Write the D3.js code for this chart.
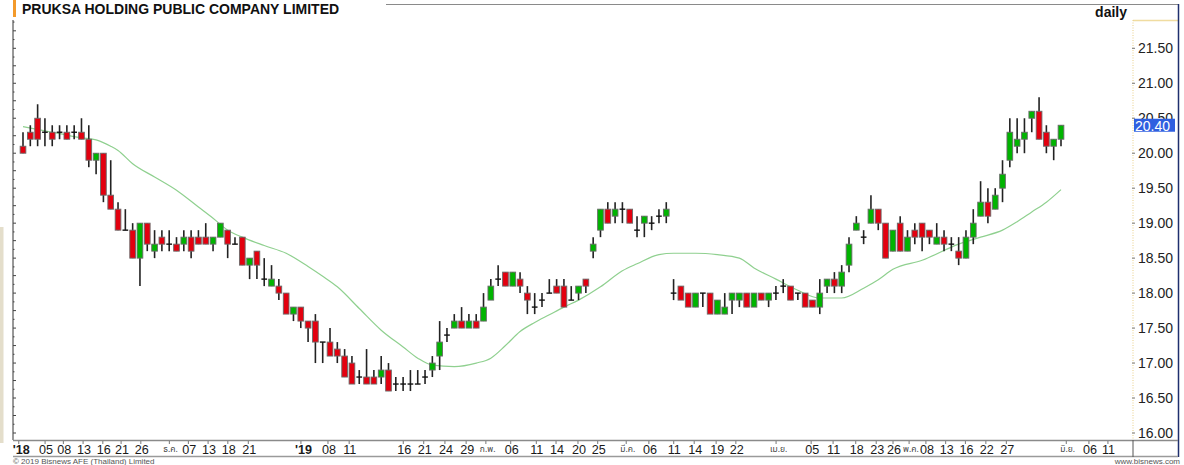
<!DOCTYPE html>
<html><head><meta charset="utf-8">
<script src="https://cdn.jsdelivr.net/npm/d3@7"></script>
<style>body{margin:0;background:#fff;overflow:hidden} svg{display:block;font-family:"Liberation Sans",Arial,Helvetica,sans-serif;}</style>
</head><body><svg id="c" width="1184" height="465"></svg>
<script>
const title = "PRUKSA HOLDING PUBLIC COMPANY LIMITED";
const period = "daily";
const copyright = "© 2019 Bisnews AFE (Thailand) Limited";
const site = "www.bisnews.com";

const opens  = [20.1,20.3,20.5,20.3,20.3,20.3,20.3,20.3,20.3,20.2,19.9,20.0,19.4,19.2,18.9,18.9,18.5,19.0,18.6,18.8,
18.7,18.7,18.7,18.8,18.8,18.8,18.7,18.8,18.9,18.7,18.8,18.4,18.6,18.2,18.1,18.1,18.0,17.7,17.8,17.6,
17.6,17.3,17.3,17.2,17.1,17.0,16.8,16.8,16.8,16.8,16.9,16.7,16.7,16.7,16.7,16.8,16.9,17.1,17.4,17.5,
17.6,17.5,17.6,17.6,17.9,18.2,18.3,18.1,18.2,18.0,17.8,17.9,18.0,18.1,18.1,17.9,18.0,18.2,18.6,18.9,
19.2,19.1,19.2,19.2,18.9,19.0,19.0,19.1,19.1,18.0,18.1,18.0,17.8,18.0,18.0,17.7,17.7,17.9,17.9,18.0,
17.8,18.0,17.9,18.0,18.1,18.1,18.0,18.0,17.9,17.8,18.1,18.2,18.1,18.4,18.9,18.8,19.0,19.2,19.0,18.6,
19.0,18.6,18.9,19.0,18.9,18.7,18.8,18.7,18.6,18.5,18.8,19.1,19.3,19.2,19.5,19.9,20.1,20.2,20.5,20.6,
20.3,20.1,20.2];
const highs  = [20.3,20.4,20.7,20.5,20.4,20.4,20.4,20.4,20.5,20.4,20.0,20.0,19.9,19.3,19.2,19.0,19.0,19.0,18.9,18.9,
18.9,18.8,18.9,18.9,18.9,19.0,18.8,19.0,18.9,18.8,18.8,18.5,18.6,18.5,18.4,18.2,18.0,17.8,17.8,17.6,
17.7,17.3,17.5,17.3,17.2,17.1,16.9,17.2,16.9,17.1,17.0,16.8,16.8,16.9,16.9,16.9,17.1,17.6,17.5,17.7,
17.8,17.7,17.7,18.0,18.2,18.4,18.3,18.3,18.3,18.1,18.0,18.0,18.2,18.2,18.2,18.1,18.1,18.2,18.8,19.2,
19.3,19.3,19.3,19.2,19.1,19.1,19.1,19.2,19.3,18.2,18.1,18.0,18.0,18.0,18.0,17.9,18.0,18.0,18.0,18.0,
18.0,18.0,18.0,18.1,18.2,18.1,18.0,18.0,17.9,18.2,18.2,18.3,18.4,18.8,19.1,18.9,19.4,19.2,19.0,18.9,
19.1,18.9,19.0,19.0,18.9,19.0,18.9,18.8,18.8,18.9,19.2,19.6,19.5,19.5,19.9,20.5,20.5,20.5,20.6,20.8,
20.4,20.2,20.4];
const lows   = [20.0,20.1,20.1,20.1,20.1,20.2,20.2,20.2,20.2,19.8,19.7,19.3,19.2,18.9,18.9,18.5,18.1,18.6,18.5,18.6,
18.6,18.6,18.6,18.5,18.7,18.7,18.6,18.8,18.5,18.7,18.4,18.2,18.2,18.1,18.1,17.9,17.7,17.6,17.5,17.3,
17.0,17.0,17.1,17.0,16.8,16.7,16.7,16.7,16.7,16.7,16.6,16.6,16.6,16.6,16.7,16.7,16.8,16.9,17.3,17.5,
17.5,17.5,17.5,17.6,17.9,18.1,18.1,18.1,18.0,17.7,17.7,17.8,18.0,18.0,17.8,17.9,17.9,18.0,18.5,18.8,
19.0,19.0,19.0,19.0,18.8,18.8,18.9,19.0,19.0,17.9,17.9,17.8,17.8,17.8,17.7,17.7,17.7,17.7,17.8,17.8,
17.8,17.9,17.8,17.9,18.0,17.9,17.9,17.8,17.8,17.7,18.0,18.0,18.0,18.3,18.9,18.7,19.0,18.9,18.5,18.6,
18.6,18.6,18.7,18.6,18.7,18.7,18.6,18.6,18.4,18.5,18.7,19.1,19.0,19.2,19.3,19.8,20.0,20.0,20.3,20.2,
20.0,19.9,20.1];
const closes = [20.0,20.2,20.2,20.3,20.2,20.3,20.2,20.3,20.2,19.9,20.0,19.4,19.2,18.9,18.9,18.5,19.0,18.7,18.7,18.7,
18.7,18.6,18.8,18.6,18.7,18.7,18.8,19.0,18.7,18.7,18.4,18.5,18.4,18.2,18.2,18.0,17.7,17.8,17.6,17.5,
17.3,17.3,17.1,17.1,16.8,16.7,16.8,16.7,16.7,16.9,16.6,16.7,16.7,16.7,16.7,16.8,17.0,17.3,17.4,17.6,
17.5,17.6,17.5,17.8,18.1,18.2,18.1,18.3,18.1,17.9,17.8,17.9,18.0,18.0,17.8,17.9,18.1,18.1,18.7,19.2,
19.0,19.2,19.2,19.0,18.9,19.1,19.0,19.1,19.2,18.0,17.9,17.8,18.0,18.0,17.7,17.9,17.8,18.0,18.0,17.8,
18.0,17.9,18.0,18.0,18.1,17.9,18.0,17.8,17.8,18.0,18.2,18.1,18.3,18.7,19.0,18.8,19.2,19.0,18.5,18.9,
18.6,18.8,18.8,18.8,18.8,18.8,18.7,18.7,18.5,18.8,19.0,19.3,19.1,19.4,19.7,20.3,20.2,20.3,20.6,20.2,
20.1,20.2,20.4];

// moving average line (candle index, value)
const maIndex = [0,3,5,8,10,12,13,15,18,21,24,26,28,30,33,36,39,41,43,46,49,52,54,56,59,62,64,66,68,70,72,74,76,79,82,84,87,89,92,95,98,100,103,106,109,112,115,117,119,123,128,131,134,136,138,140,142];
const maValue = [20.38,20.32,20.28,20.22,20.19,20.10,20.04,19.85,19.66,19.47,19.23,19.07,18.90,18.80,18.68,18.57,18.38,18.24,18.09,17.78,17.47,17.23,17.07,16.97,16.95,17.00,17.07,17.25,17.45,17.58,17.69,17.80,17.90,18.09,18.32,18.42,18.55,18.57,18.57,18.55,18.50,18.36,18.20,18.04,17.93,17.93,18.07,18.19,18.34,18.47,18.70,18.80,18.90,19.02,19.16,19.30,19.48];

const yTickValues = [16.0,16.5,17.0,17.5,18.0,18.5,19.0,19.5,20.0,20.5,21.0,21.5];

const xTickLabels = ["'18","05","08","13","16","21","26","ธ.ค.","07","13","18","21","'19","08","11","16","21","24","29","ก.พ.","06","11","14","20","25","มี.ค.","06","11","14","19","22","เม.ย.","05","11","18","23","26","พ.ค.","08","13","16","22","27","มิ.ย.","06","11"];
const xTickIndex  = [-1.4,2.2,4.7,7.4,10.1,12.6,15.3,19.2,21.8,24.5,27.2,30.0,37.2,40.9,43.8,51.2,54.0,56.9,59.8,62.5,65.9,69.4,72.1,75.1,77.8,81.7,84.8,88.2,91.0,94.0,96.7,102.2,107.0,110.0,113.1,115.9,118.2,120.4,122.7,125.4,128.1,130.9,133.7,141.9,145.0,147.6];

const candles = opens.map((o,i)=>({i, o, h:highs[i], l:lows[i], c:closes[i]}));
const ma = maIndex.map((k,j)=>({i:k, v:maValue[j]}));

const svg = d3.select("#c");
const plotL = 13, plotT = 20, plotB = 440;

const x = d3.scaleLinear().domain([0, 142]).range([23, 1061]);
const y = d3.scaleLinear().domain([16, 21.5]).range([433, 48.3]);
const step = x(1) - x(0);
const bw = step * 0.78;

// left beige strip
svg.append("rect").attr("x",0).attr("y",227).attr("width",3.5).attr("height",216).attr("fill","#e4decb");

// title bar
svg.append("rect").attr("x",13).attr("y",0).attr("width",3).attr("height",17).attr("fill","#f39a2b");
svg.append("text").attr("x",22).attr("y",14).attr("font-size",14).attr("font-weight","bold").attr("fill","#111").text(title);
svg.append("text").attr("x",1127).attr("y",17).attr("text-anchor","end").attr("font-size",14).attr("font-weight","bold").attr("fill","#111").text(period);
svg.append("line").attr("x1",386).attr("x2",1179).attr("y1",4.5).attr("y2",4.5).attr("stroke","#8a8a8a").attr("stroke-width",1);

// left axis
svg.append("line").attr("x1",plotL).attr("x2",plotL).attr("y1",plotT).attr("y2",plotB).attr("stroke","#333").attr("stroke-width",1);
const minor = d3.range(15.75, 22.01, 0.125).filter(v=>y(v)>plotT && y(v)<plotB);
svg.append("g").selectAll("line").data(minor).join("line")
  .attr("x1",plotL).attr("x2",d=> (Math.abs(d*4-Math.round(d*4))<1e-6)?plotL+3:plotL+1.5)
  .attr("y1",d=>y(d)).attr("y2",d=>y(d)).attr("stroke","#444").attr("stroke-width",1);

// right price axis panel
svg.append("line").attr("x1",1133).attr("x2",1178).attr("y1",20.5).attr("y2",20.5).attr("stroke","#f0dca0").attr("stroke-width",1.5);
svg.append("line").attr("x1",1133).attr("x2",1133).attr("y1",20).attr("y2",440).attr("stroke","#e8cf88").attr("stroke-width",1).attr("stroke-dasharray","1,1.5");
svg.append("line").attr("x1",1178.5).attr("x2",1178.5).attr("y1",4).attr("y2",457).attr("stroke","#1f2f6e").attr("stroke-width",1.5);
const yAxisG = svg.append("g");
yAxisG.selectAll("line").data(yTickValues).join("line")
  .attr("x1",1132).attr("x2",1135).attr("y1",d=>y(d)).attr("y2",d=>y(d)).attr("stroke","#777");
yAxisG.selectAll("text").data(yTickValues).join("text")
  .attr("x",1138).attr("y",d=>y(d)+5).attr("font-size",14).attr("fill","#222")
  .text(d=>d3.format(".2f")(d));

// bottom axis band
svg.append("line").attr("x1",plotL).attr("x2",1178).attr("y1",440.5).attr("y2",440.5).attr("stroke","#8a8a8a").attr("stroke-width",1.5);
svg.append("line").attr("x1",plotL).attr("x2",1178).attr("y1",456.5).attr("y2",456.5).attr("stroke","#9a9a9a").attr("stroke-width",1.5);
svg.append("line").attr("x1",1133).attr("x2",1133).attr("y1",440).attr("y2",457).attr("stroke","#555").attr("stroke-width",1);
const xAxisG = svg.append("g");
xAxisG.selectAll("line").data(xTickIndex).join("line")
  .attr("x1",d=>x(d)+6).attr("x2",d=>x(d)+6).attr("y1",441).attr("y2",444).attr("stroke","#777");
xAxisG.selectAll("text").data(xTickLabels).join("text")
  .attr("x",(d,i)=>x(xTickIndex[i]))
  .attr("y",d=> /^[0-9']/.test(d)?454:452)
  .attr("font-size",d=> /^[0-9']/.test(d)?12.6:8.5)
  .attr("font-weight",d=> d.startsWith("'")?"bold":"normal")
  .attr("font-family",d=> /^[0-9']/.test(d)?null:"'Noto Sans Thai','Noto Sans','DejaVu Sans',sans-serif")
  .attr("fill",d=> /^[0-9']/.test(d)?"#1a1a1a":"#444").text(d=>d);

// footer
svg.append("text").attr("x",13).attr("y",464).attr("font-size",8).attr("fill","#555").text(copyright);
svg.append("text").attr("x",1180).attr("y",464).attr("text-anchor","end").attr("font-size",8).attr("fill","#555").text(site);

// moving average
svg.append("path").datum(ma)
  .attr("d", d3.line().x(d=>x(d.i)).y(d=>y(d.v)).curve(d3.curveMonotoneX))
  .attr("fill","none").attr("stroke","#8fd08f").attr("stroke-width",1.2);

// candles
const cg = svg.append("g").selectAll("g").data(candles).join("g");
cg.append("line").attr("x1",d=>x(d.i)).attr("x2",d=>x(d.i))
  .attr("y1",d=>y(d.h)).attr("y2",d=>y(d.l)).attr("stroke","#222").attr("stroke-width",1.6);
cg.filter(d=>Math.abs(d.o-d.c)>1e-9).append("rect")
  .attr("x",d=>x(d.i)-bw/2).attr("width",bw)
  .attr("y",d=>y(Math.max(d.o,d.c))).attr("height",d=>Math.abs(y(d.o)-y(d.c)))
  .attr("fill",d=>d.c>d.o?"#00b400":"#e3000f")
  .attr("stroke","#6a6a6a").attr("stroke-width",0.9);
cg.filter(d=>Math.abs(d.o-d.c)<=1e-9).append("line")
  .attr("x1",d=>x(d.i)-bw/2).attr("x2",d=>x(d.i)+bw/2)
  .attr("y1",d=>y(d.c)).attr("y2",d=>y(d.c)).attr("stroke","#111").attr("stroke-width",1.4);

// last price tag
const last = candles[candles.length-1];
svg.append("rect").attr("x",1134).attr("y",y(last.c)-6.5).attr("width",41).attr("height",13).attr("fill","#2f5fe0");
svg.append("text").attr("x",1135).attr("y",y(last.c)+5.5).attr("font-size",14).attr("fill","#fff").text(d3.format(".2f")(last.c));
</script>
</body></html>
